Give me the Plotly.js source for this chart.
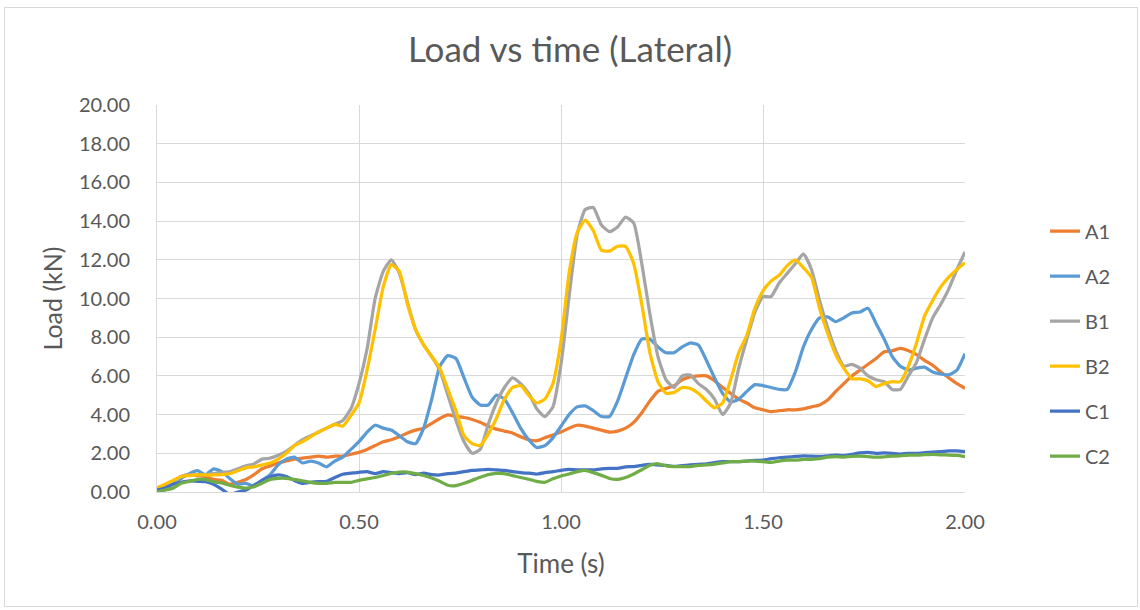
<!DOCTYPE html>
<html>
<head>
<meta charset="utf-8">
<script src="https://cdn.plot.ly/plotly-3.0.1.min.js"></script>
<style>
  html, body { margin: 0; padding: 0; background: #ffffff; }
  #wrap { position: relative; width: 1140px; height: 610px; }
  #chart { position: absolute; left: 0; top: 0; width: 1140px; height: 610px; }
  #frame { position: absolute; left: 4px; top: 7px; width: 1132px; height: 598px;
           border: 1px solid #d9d9d9; pointer-events: none; }
</style>
</head>
<body>
<div id="wrap">
  <div id="chart"></div>
  <div id="frame"></div>
</div>
<script>
// Lateral load (kN) sampled every 0.02 s from 0.00 to 2.00 s
const A1 = [0.2,0.35,0.5,0.8,0.9,0.85,0.8,0.65,0.6,0.4,0.5,0.65,0.9,1.2,1.35,1.5,1.6,1.7,1.75,1.8,
  1.85,1.8,1.85,1.85,1.95,2.05,2.2,2.4,2.6,2.7,2.85,3.05,3.2,3.3,3.55,3.8,3.98,3.9,3.85,3.75,
  3.6,3.4,3.25,3.15,3.05,2.85,2.7,2.65,2.8,2.95,3.1,3.3,3.45,3.4,3.3,3.2,3.1,3.15,3.3,3.6,
  4.1,4.7,5.2,5.35,5.5,5.8,5.95,6.0,6.0,5.75,5.4,5.1,4.8,4.6,4.35,4.25,4.15,4.2,4.25,4.25,
  4.3,4.4,4.5,4.75,5.2,5.6,6.0,6.3,6.6,6.9,7.25,7.3,7.42,7.3,7.1,6.8,6.55,6.2,5.9,5.6,5.36];

const A2 = [0.2,0.35,0.5,0.7,0.95,1.1,0.9,1.2,1.05,0.7,0.4,0.45,0.3,0.6,0.9,1.4,1.7,1.8,1.5,1.6,
  1.5,1.3,1.6,1.8,2.2,2.6,3.1,3.45,3.3,3.2,2.9,2.6,2.5,3.3,4.8,6.5,7.05,6.9,5.9,4.9,
  4.5,4.5,5.0,4.8,4.1,3.3,2.7,2.3,2.4,2.8,3.4,4.0,4.4,4.45,4.2,3.9,3.9,4.7,5.9,7.1,
  7.9,7.9,7.5,7.2,7.2,7.5,7.7,7.6,6.8,5.9,5.1,4.65,4.8,5.2,5.55,5.5,5.4,5.3,5.3,6.2,
  7.5,8.4,9.0,9.05,8.8,9.0,9.25,9.3,9.5,8.7,7.9,7.0,6.5,6.3,6.4,6.45,6.2,6.1,6.05,6.3,7.15];

const B1 = [0.1,0.3,0.5,0.8,0.9,0.9,0.9,0.95,1.0,1.05,1.2,1.35,1.45,1.7,1.75,1.9,2.1,2.4,2.7,2.9,
  3.1,3.3,3.5,3.7,4.3,5.6,7.4,10.0,11.4,12.0,11.3,9.8,8.4,7.6,7.0,6.3,5.0,3.7,2.6,2.0,
  2.2,3.5,4.6,5.4,5.9,5.6,5.1,4.3,3.9,4.4,6.6,10.1,13.3,14.6,14.7,13.8,13.45,13.7,14.2,13.9,
  11.8,9.2,7.0,5.8,5.4,6.0,6.05,5.6,5.3,4.8,4.0,4.6,6.4,7.9,9.3,10.1,10.1,10.8,11.3,11.8,
  12.3,11.5,9.9,8.5,7.3,6.5,6.6,6.4,6.0,5.8,5.7,5.3,5.3,6.0,6.7,7.9,9.0,9.7,10.5,11.5,12.4];

const B2 = [0.2,0.4,0.6,0.8,0.85,0.9,0.88,0.88,0.9,0.95,1.1,1.25,1.3,1.4,1.5,1.7,2.0,2.4,2.6,2.85,
  3.1,3.3,3.5,3.4,3.95,4.6,6.3,8.4,10.6,11.75,11.4,9.7,8.4,7.6,7.0,6.4,5.3,4.2,2.9,2.5,
  2.4,3.0,3.8,4.8,5.4,5.5,5.0,4.6,4.8,5.6,7.8,11.3,13.4,14.05,13.5,12.5,12.45,12.7,12.7,11.8,
  9.7,7.2,5.7,5.1,5.15,5.4,5.35,5.1,4.7,4.35,4.6,5.8,7.2,8.1,9.5,10.4,10.9,11.2,11.7,12.0,
  11.6,11.1,9.5,8.2,7.1,6.4,5.85,5.85,5.75,5.45,5.6,5.7,5.7,6.5,7.7,9.1,9.9,10.6,11.1,11.5,11.85];

const C1 = [0.1,0.2,0.4,0.5,0.57,0.55,0.53,0.4,0.15,-0.12,0.0,0.1,0.35,0.6,0.79,0.88,0.8,0.6,0.45,0.5,
  0.53,0.55,0.75,0.92,0.97,1.02,1.05,0.95,1.05,1.0,0.95,1.0,0.9,0.97,0.9,0.88,0.95,0.98,1.05,1.12,
  1.14,1.17,1.14,1.12,1.05,1.0,0.97,0.93,1.0,1.05,1.12,1.17,1.14,1.14,1.14,1.2,1.22,1.22,1.3,1.31,
  1.38,1.43,1.4,1.37,1.32,1.36,1.4,1.43,1.46,1.52,1.57,1.57,1.57,1.6,1.63,1.65,1.72,1.77,1.8,1.84,
  1.87,1.85,1.84,1.87,1.91,1.88,1.95,2.02,2.05,2.0,2.02,2.0,1.96,2.0,2.0,2.03,2.06,2.09,2.13,2.12,2.09];

const C2 = [0.0,0.1,0.2,0.45,0.55,0.65,0.65,0.52,0.47,0.35,0.25,0.2,0.27,0.45,0.65,0.71,0.71,0.65,0.58,0.5,
  0.45,0.45,0.5,0.5,0.5,0.6,0.68,0.75,0.85,0.97,1.03,1.03,0.95,0.85,0.72,0.55,0.35,0.33,0.45,0.6,
  0.76,0.9,0.96,0.95,0.85,0.75,0.66,0.55,0.5,0.68,0.83,0.93,1.05,1.12,1.0,0.86,0.7,0.65,0.75,0.93,
  1.15,1.38,1.46,1.35,1.31,1.31,1.31,1.38,1.4,1.44,1.5,1.57,1.57,1.6,1.6,1.57,1.53,1.6,1.65,1.65,
  1.68,1.69,1.72,1.8,1.83,1.8,1.84,1.85,1.83,1.8,1.82,1.85,1.87,1.91,1.91,1.93,1.95,1.92,1.91,1.89,1.83];

const seriesNames = ['A1', 'A2', 'B1', 'B2', 'C1', 'C2'];
const seriesValues = [A1, A2, B1, B2, C1, C2];
const seriesColors = ['#ED7D31', '#5B9BD5', '#A5A5A5', '#FFC000', '#4472C4', '#70AD47'];

// sampling instants (s)
const time = A1.map((_, i) => +(i * 0.02).toFixed(2));

const FONT = 'Lato, "Open Sans", sans-serif';
const TXT = '#595959';
const GRID = '#d9d9d9';

const traces = seriesNames.map((name, k) => ({
  type: 'scatter',
  mode: 'lines',
  name: name,
  legendgroup: name,
  x: time,
  y: seriesValues[k],
  line: { color: seriesColors[k], width: 3.25, shape: 'spline', smoothing: 0.5 },
  hoverinfo: 'x+y+name'
}));

const layout = {
  width: 1140,
  height: 610,
  paper_bgcolor: '#ffffff',
  plot_bgcolor: '#ffffff',
  margin: { l: 157, r: 175, t: 105, b: 118 },
  font: { family: FONT, color: TXT, size: 20 },
  title: {
    text: 'Load vs time (Lateral)',
    font: { family: FONT, size: 35, color: TXT },
    x: 0.5, xref: 'container', xanchor: 'center',
    y: 1 - 50 / 610, yref: 'container', yanchor: 'middle'
  },
  xaxis: {
    range: [0, 2],
    tick0: 0, dtick: 0.5, tickformat: '.2f',
    showgrid: true, gridcolor: GRID, gridwidth: 1,
    showline: true, linecolor: GRID, linewidth: 1,
    zeroline: false, ticks: '',
    ticklabelstandoff: 12,
    tickfont: { family: FONT, size: 20, color: TXT },
    title: { text: 'Time (s)', font: { family: FONT, size: 26, color: TXT }, standoff: 22 }
  },
  yaxis: {
    range: [0, 20],
    tick0: 0, dtick: 2, tickformat: '.2f',
    showgrid: true, gridcolor: GRID, gridwidth: 1,
    showline: true, linecolor: GRID, linewidth: 1,
    zeroline: false, ticks: '',
    ticklabelstandoff: 22,
    tickfont: { family: FONT, size: 20, color: TXT },
    title: { text: 'Load (kN)', font: { family: FONT, size: 25, color: TXT }, standoff: 9 }
  },
  showlegend: true,
  legend: {
    xref: 'container', yref: 'container',
    x: 1045 / 1140, xanchor: 'left',
    y: 1 - 343.5 / 610, yanchor: 'middle',
    tracegroupgap: 16,
    traceorder: 'grouped',
    font: { family: FONT, size: 20, color: TXT },
    bgcolor: 'rgba(0,0,0,0)'
  }
};

Plotly.newPlot('chart', traces, layout, { displayModeBar: false, staticPlot: true });
</script>
</body>
</html>
